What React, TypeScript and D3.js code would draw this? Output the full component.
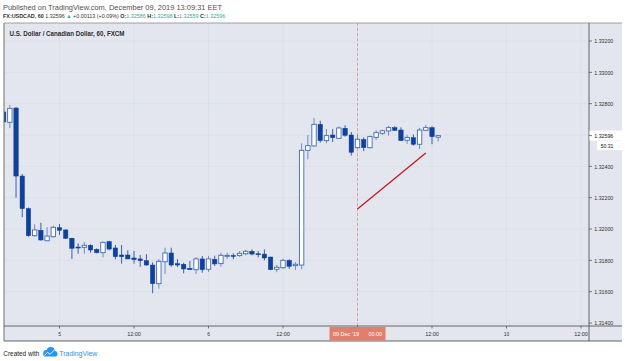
import React from 'react';
import * as d3 from 'd3';

// ---- data (hour offsets from 5 Dec 00:00 EET, trading hours only) ----
const hours = [-9,-8,-7,-6,-5,-4,-3,-2,-1,0,1,2,3,4,5,6,7,8,9,10,11,12,13,14,15,16,17,18,19,20,21,22,23,24,25,26,27,28,29,30,31,32,33,34,35,36,37,38,39,40,41,42,43,44,45,46,47,48,49,50,51,52,53,54,55,56,57,58,59,60,61];
const opens = [1.32747,1.32681,1.32772,1.32338,1.32130,1.31957,1.31992,1.31925,1.31951,1.32008,1.31994,1.31941,1.31885,1.31883,1.31896,1.31870,1.31849,1.31919,1.31879,1.31834,1.31834,1.31815,1.31809,1.31798,1.31770,1.31651,1.31791,1.31847,1.31779,1.31775,1.31749,1.31740,1.31809,1.31743,1.31807,1.31779,1.31829,1.31831,1.31830,1.31842,1.31858,1.31842,1.31840,1.31821,1.31743,1.31753,1.31800,1.31766,1.31770,1.32502,1.32530,1.32668,1.32564,1.32600,1.32579,1.32643,1.32600,1.32519,1.32571,1.32519,1.32585,1.32611,1.32626,1.32647,1.32632,1.32566,1.32583,1.32541,1.32630,1.32647,1.32586];
const highs = [1.32760,1.32792,1.32779,1.32351,1.32137,1.32030,1.32040,1.32011,1.32021,1.32032,1.31998,1.31944,1.31909,1.31917,1.31902,1.31876,1.31919,1.31925,1.31898,1.31898,1.31864,1.31860,1.31834,1.31839,1.31787,1.31807,1.31881,1.31881,1.31807,1.31785,1.31796,1.31821,1.31828,1.31828,1.31830,1.31849,1.31849,1.31845,1.31858,1.31866,1.31870,1.31860,1.31870,1.31823,1.31772,1.31810,1.31807,1.31789,1.32547,1.32600,1.32709,1.32691,1.32638,1.32638,1.32653,1.32662,1.32619,1.32602,1.32585,1.32596,1.32632,1.32634,1.32659,1.32656,1.32649,1.32600,1.32604,1.32645,1.32664,1.32656,1.32598];
const lows = [1.32677,1.32643,1.32200,1.32075,1.31951,1.31951,1.31925,1.31923,1.31944,1.31962,1.31936,1.31809,1.31842,1.31842,1.31849,1.31844,1.31819,1.31864,1.31807,1.31779,1.31807,1.31779,1.31759,1.31766,1.31590,1.31619,1.31713,1.31759,1.31757,1.31717,1.31738,1.31713,1.31721,1.31726,1.31764,1.31759,1.31809,1.31807,1.31823,1.31832,1.31832,1.31819,1.31800,1.31738,1.31724,1.31745,1.31745,1.31738,1.31743,1.32445,1.32525,1.32551,1.32547,1.32555,1.32574,1.32589,1.32468,1.32513,1.32497,1.32514,1.32568,1.32600,1.32596,1.32626,1.32562,1.32544,1.32532,1.32511,1.32626,1.32541,1.32559];
const closes = [1.32683,1.32770,1.32338,1.32130,1.31957,1.31994,1.31930,1.31955,1.32011,1.31992,1.31941,1.31877,1.31882,1.31896,1.31866,1.31849,1.31915,1.31872,1.31823,1.31823,1.31809,1.31804,1.31798,1.31770,1.31651,1.31794,1.31847,1.31770,1.31770,1.31745,1.31740,1.31809,1.31740,1.31809,1.31777,1.31832,1.31832,1.31828,1.31845,1.31858,1.31840,1.31839,1.31815,1.31740,1.31756,1.31800,1.31762,1.31775,1.32502,1.32532,1.32668,1.32564,1.32596,1.32583,1.32645,1.32598,1.32490,1.32573,1.32519,1.32590,1.32615,1.32627,1.32647,1.32630,1.32564,1.32585,1.32541,1.32632,1.32647,1.32589,1.32596];

const priceTicks = [1.314, 1.316, 1.318, 1.32, 1.322, 1.324, 1.326, 1.328, 1.33, 1.332];
const timeTickHours = [0, 12, 24, 36, 48, 60, 72, 84];
const timeTickLabels = ['5', '12:00', '6', '12:00', '9', '12:00', '10', '12:00'];
const crossHour = 48;
const crossLabel = ["09 Dec '19", '00:00'];
const trendHours = [48, 59];
const trendPrices = [1.32128, 1.32485];
const lastPrice = 1.32596;
const countdown = '50:31';
const headerSegments = [
  { t: 'FX:USDCAD, 60 ', bold: true, teal: false },
  { t: '1.32596 ', bold: false, teal: false },
  { t: '▲ ', bold: false, teal: true },
  { t: '+0.00113 (+0.09%) ', bold: false, teal: false },
  { t: 'O:', bold: true, teal: false },
  { t: '1.32586 ', bold: false, teal: true },
  { t: 'H:', bold: true, teal: false },
  { t: '1.32598 ', bold: false, teal: true },
  { t: 'L:', bold: true, teal: false },
  { t: '1.32559 ', bold: false, teal: true },
  { t: 'C:', bold: true, teal: false },
  { t: '1.32596', bold: false, teal: true },
];

const W = 625, H = 361;
const P = { left: 4, right: 589, top: 23, bottom: 326, axisBottom: 341, outerRight: 622 };
const BG = '#e3e6ee';
const GRID = '#d9dde6';
const DOWN = '#0e409d';
const UP = '#3f69b9';
const WICK_UP = '#6e8ccb';
const WICK_DN = '#3a5fae';
const TEAL = '#2fae98';
const FONT = "'Liberation Sans', Arial, sans-serif";

const x = d3.scaleLinear().domain([0, 84]).range([59.5, 581]);
const y = d3.scaleLinear().domain([1.314, 1.332]).range([323, 41]);
const fmt = d3.format('.5f');

function T(props: any) {
  const { x, y, children, w, size = 7, weight = 'normal', fill = '#333', anchor = 'start' } = props;
  return (
    <text x={x} y={y} fontSize={size} fontWeight={weight} fill={fill} textAnchor={anchor}
      fontFamily={FONT} textLength={w} lengthAdjust="spacingAndGlyphs">{children}</text>
  );
}

export default function App() {
  const bodyW = 4.4;
  const candles = hours.map((h, i) => {
    const o = opens[i], c = closes[i], hi = highs[i], lo = lows[i];
    const up = c >= o;
    const cx = x(h);
    const top = y(Math.max(o, c));
    const bot = y(Math.min(o, c));
    const bh = Math.max(1, bot - top);
    return (
      <g key={h}>
        <line x1={cx} x2={cx} y1={y(hi)} y2={y(lo)} stroke={up ? WICK_UP : WICK_DN} strokeWidth={1} />
        <rect x={cx - bodyW / 2} y={top} width={bodyW} height={bh}
          fill={up ? '#ffffff' : DOWN} stroke={up ? UP : DOWN} strokeWidth={up ? 0.9 : 0.5} />
      </g>
    );
  });

  const lastY = y(lastPrice);
  const cxX = x(crossHour);
  const tl = d3.line<number>().x((d, i) => x(trendHours[i])).y((d) => y(d));

  return (
    <svg width={W} height={H} style={{ position: 'absolute', left: 0, top: 0, background: '#fff' }}>
      {/* header */}
      <T x={3} y={9.6} w={219} size={7.2} fill="#505050">Published on TradingView.com, December 09, 2019 13:09:31 EET</T>
      <text x={3} y={18.4} fontSize={5.4} fontFamily={FONT} fill="#333" xmlSpace="preserve">
        {headerSegments.map((s, i) => (
          <tspan key={i} fontWeight={s.bold ? 'bold' : 'normal'} fill={s.teal ? TEAL : '#333'}>{s.t}</tspan>
        ))}
      </text>

      {/* panel background */}
      <rect x={P.left} y={P.top} width={P.outerRight - P.left} height={P.axisBottom - P.top} fill={BG} />

      {/* grid */}
      {timeTickHours.map((h) => (
        <line key={'vg' + h} x1={x(h)} x2={x(h)} y1={P.top} y2={P.bottom} stroke={GRID} strokeWidth={0.8} />
      ))}
      {priceTicks.map((p) => (
        <line key={'hg' + p} x1={P.left} x2={P.right} y1={y(p)} y2={y(p)} stroke={GRID} strokeWidth={0.8} />
      ))}

      {/* crosshair */}
      <line x1={cxX} x2={cxX} y1={P.top} y2={P.bottom} stroke="#d9958a" strokeWidth={0.8} strokeDasharray="3,2" />

      <defs>
        <clipPath id="plotclip">
          <rect x={P.left} y={P.top} width={P.right - P.left} height={P.bottom - P.top} />
        </clipPath>
      </defs>
      <g clipPath="url(#plotclip)">
        {candles}
        <path d={tl(trendPrices) || ''} stroke="#c8161d" strokeWidth={1.3} fill="none" />
      </g>

      <T x={9.5} y={36} w={115} size={6.4} weight="bold" fill="#2e2e2e">U.S. Dollar / Canadian Dollar, 60, FXCM</T>

      {/* frame lines */}
      <line x1={P.left} x2={P.left} y1={P.top} y2={P.axisBottom} stroke="#6f6f6f" strokeWidth={1} />
      <line x1={P.left} x2={P.outerRight} y1={P.top} y2={P.top} stroke="#8a8a8a" strokeWidth={0.8} />
      <line x1={P.left} x2={P.outerRight} y1={P.bottom} y2={P.bottom} stroke="#555" strokeWidth={0.9} />
      <line x1={P.left} x2={P.outerRight} y1={P.axisBottom} y2={P.axisBottom} stroke="#555" strokeWidth={0.9} />
      <line x1={P.right} x2={P.right} y1={P.top} y2={P.axisBottom} stroke="#555" strokeWidth={0.9} />

      {/* price axis */}
      {priceTicks.map((p) => (
        <g key={'pt' + p}>
          <line x1={P.right} x2={P.right + 3} y1={y(p)} y2={y(p)} stroke="#555" strokeWidth={0.8} />
          {Math.abs(y(p) - lastY) > 16 && (
            <T x={594.3} y={y(p) + 2.2} w={19} size={5.6} fill="#333">{fmt(p)}</T>
          )}
        </g>
      ))}
      <rect x={P.right + 0.5} y={lastY - 5} width={P.outerRight - P.right} height={10} fill="#fff" />
      <line x1={P.right} x2={P.right + 3} y1={lastY} y2={lastY} stroke="#555" strokeWidth={0.8} />
      <T x={594.3} y={lastY + 2.2} w={19} size={5.6} fill="#111">{fmt(lastPrice)}</T>
      <rect x={P.right + 8} y={lastY + 5.5} width={P.outerRight - P.right - 8} height={9} fill="#fff" />
      <T x={613.3} y={lastY + 12.2} w={12.6} size={5.6} fill="#111" anchor="end">{countdown}</T>

      {/* time axis */}
      {timeTickHours.map((h, i) => (
        <g key={'tt' + h}>
          <line x1={x(h)} x2={x(h)} y1={P.bottom} y2={P.bottom + 2.5} stroke="#555" strokeWidth={0.8} />
          {h !== crossHour && (
            <T x={x(h)} y={336.3} w={timeTickLabels[i].length * 2.75} size={5.6} fill="#333" anchor="middle">{timeTickLabels[i]}</T>
          )}
        </g>
      ))}
      <rect x={cxX - 28} y={P.bottom + 1} width={56} height={13.5} fill="#e0806c" />
      <text y={336.3} fontSize={5.6} fontFamily={FONT} fill="#fff">
        <tspan x={cxX - 24.5} textLength={26} lengthAdjust="spacingAndGlyphs">{crossLabel[0]}</tspan>
        <tspan x={cxX + 11} textLength={13.5} lengthAdjust="spacingAndGlyphs">{crossLabel[1]}</tspan>
      </text>

      {/* footer */}
      <T x={3.3} y={356.3} w={36} size={6.4} fill="#222">Created with</T>
      <g fill="#2196f3">
        <circle cx={46.3} cy={353} r={3} />
        <circle cx={50.7} cy={351} r={4} />
        <circle cx={54.8} cy={353.6} r={2.6} />
        <rect x={43.3} y={353} width={14} height={3.4} rx={1.6} />
      </g>
      <polyline points="44.5,355.5 47.5,352.3 50,354.3 54.5,349.8" fill="none" stroke="#fff" strokeWidth={0.9} />
      <T x={59.3} y={356.3} w={38} size={6.4} fill="#2196f3">TradingView</T>
    </svg>
  );
}
